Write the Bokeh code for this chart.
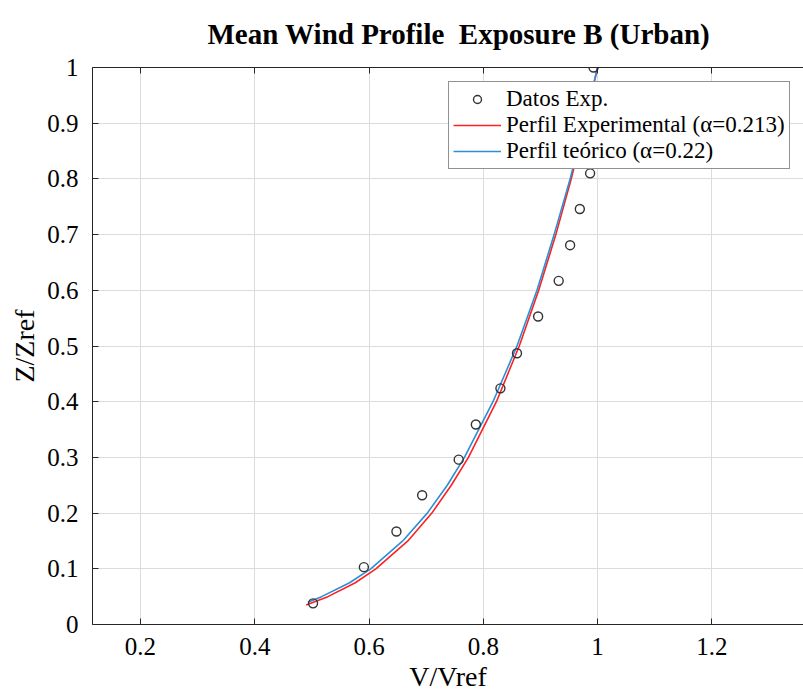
from bokeh.plotting import figure
from bokeh.models import LinearAxis, Legend, LegendItem, FixedTicker, Range1d, CustomJSTickFormatter
from bokeh.embed import file_html
from bokeh.resources import INLINE

v_exp = [0.502, 0.591, 0.648, 0.693, 0.757, 0.787, 0.830, 0.859, 0.896, 0.932, 0.952, 0.969, 0.987, 0.993]
z_exp = [0.038, 0.103, 0.167, 0.232, 0.296, 0.359, 0.424, 0.487, 0.553, 0.617, 0.681, 0.746, 0.810, 1.000]

# Experimental profile (alpha = 0.213), red
z_red = [0.035, 0.05, 0.075, 0.1, 0.15, 0.2, 0.25, 0.3, 0.4, 0.5, 0.6, 0.7, 0.8, 0.9, 1.0]
v_red = [0.490, 0.528, 0.576, 0.612, 0.668, 0.710, 0.744, 0.774, 0.823, 0.863, 0.897, 0.927, 0.954, 0.978, 1.000]

# Theoretical profile (alpha = 0.22), blue
z_blue = [0.04, 0.05, 0.075, 0.1, 0.15, 0.2, 0.25, 0.3, 0.4, 0.5, 0.6, 0.7, 0.8, 0.9, 1.0]
v_blue = [0.493, 0.517, 0.566, 0.603, 0.659, 0.702, 0.737, 0.767, 0.817, 0.859, 0.894, 0.924, 0.952, 0.977, 1.000]

x_ticks = [0.2, 0.4, 0.6, 0.8, 1.0, 1.2]
y_ticks = [0.0, 0.1, 0.2, 0.3, 0.4, 0.5, 0.6, 0.7, 0.8, 0.9, 1.0]
x_tick_labels = {0.2: "0.2", 0.4: "0.4", 0.6: "0.6", 0.8: "0.8", 1.0: "1", 1.2: "1.2"}
y_tick_labels = {0.0: "0", 0.1: "0.1", 0.2: "0.2", 0.3: "0.3", 0.4: "0.4", 0.5: "0.5",
                 0.6: "0.6", 0.7: "0.7", 0.8: "0.8", 0.9: "0.9", 1.0: "1"}

title_text = "Mean Wind Profile\u00a0 Exposure B (Urban)"
x_label = "V/Vref"
y_label = "Z/Zref"
labels = ["Datos Exp.", "Perfil Experimental (\u03b1=0.213)", "Perfil te\u00f3rico (\u03b1=0.22)"]

SERIF = "Liberation Serif"
AX = "#262626"

p = figure(width=803, height=694, output_backend="svg", toolbar_location=None,
           x_range=Range1d(0.116, 1.3605), y_range=Range1d(0, 1),
           min_border_left=92, min_border_right=0, min_border_top=67, min_border_bottom=68,
           outline_line_color=None, background_fill_color="white")

p.title.text = title_text
p.title.text_font = SERIF
p.title.text_font_size = "29px"
p.title.text_font_style = "bold"
p.title.align = "left"
p.title.offset = 115
p.title.standoff = 32
p.title.vertical_align = "top"
p.title.text_color = "black"

for ax in (p.xaxis[0], p.yaxis[0]):
    ax.major_tick_in = 6
    ax.major_tick_out = 0
    ax.minor_tick_line_color = None
    ax.axis_line_color = AX
    ax.major_tick_line_color = AX
    ax.major_label_text_font = SERIF
    ax.major_label_text_font_size = "25px"
    ax.major_label_text_color = "black"
    ax.axis_label_text_font = SERIF
    ax.axis_label_text_font_size = "28px"
    ax.axis_label_text_font_style = "normal"
    ax.axis_label_text_color = "black"

p.xaxis[0].ticker = FixedTicker(ticks=x_ticks)
p.xaxis[0].major_label_overrides = x_tick_labels
p.xaxis[0].axis_label = x_label
p.xaxis[0].major_label_standoff = 13
p.xaxis[0].axis_label_standoff = 3

p.yaxis[0].ticker = FixedTicker(ticks=y_ticks)
p.yaxis[0].major_label_overrides = y_tick_labels
p.yaxis[0].axis_label = y_label
p.yaxis[0].major_label_standoff = 14
p.yaxis[0].axis_label_standoff = 4

top = LinearAxis(ticker=FixedTicker(ticks=x_ticks), major_tick_in=6, major_tick_out=0,
                 minor_tick_line_color=None, axis_line_color=AX, major_tick_line_color=AX,
                 formatter=CustomJSTickFormatter(code="return ''"),
                 major_label_standoff=0)
p.add_layout(top, "above")

p.xgrid.ticker = FixedTicker(ticks=x_ticks)
p.ygrid.ticker = FixedTicker(ticks=y_ticks)
p.grid.grid_line_color = "#dcdcdc"
p.grid.grid_line_width = 1

r_red = p.line(v_red, z_red, line_color="#ff2020", line_width=1.6)
r_blue = p.line(v_blue, z_blue, line_color="#2a8fd8", line_width=1.6)
r_pts = p.scatter(v_exp, z_exp, marker="circle", size=9, fill_color=None,
                  line_color="#333333", line_width=1.4)

legend = Legend(items=[LegendItem(label=labels[0], renderers=[r_pts]),
                       LegendItem(label=labels[1], renderers=[r_red]),
                       LegendItem(label=labels[2], renderers=[r_blue])],
                location=(356, 455), padding=4, spacing=-3, margin=0,
                glyph_width=48, glyph_height=20, label_height=20, label_standoff=5,
                label_text_font=SERIF, label_text_font_size="23px", label_text_color="black",
                border_line_color=AX, border_line_width=1, background_fill_color="white",
                background_fill_alpha=1.0)
p.add_layout(legend, "center")

open("out.html", "w").write(file_html(p, INLINE))
